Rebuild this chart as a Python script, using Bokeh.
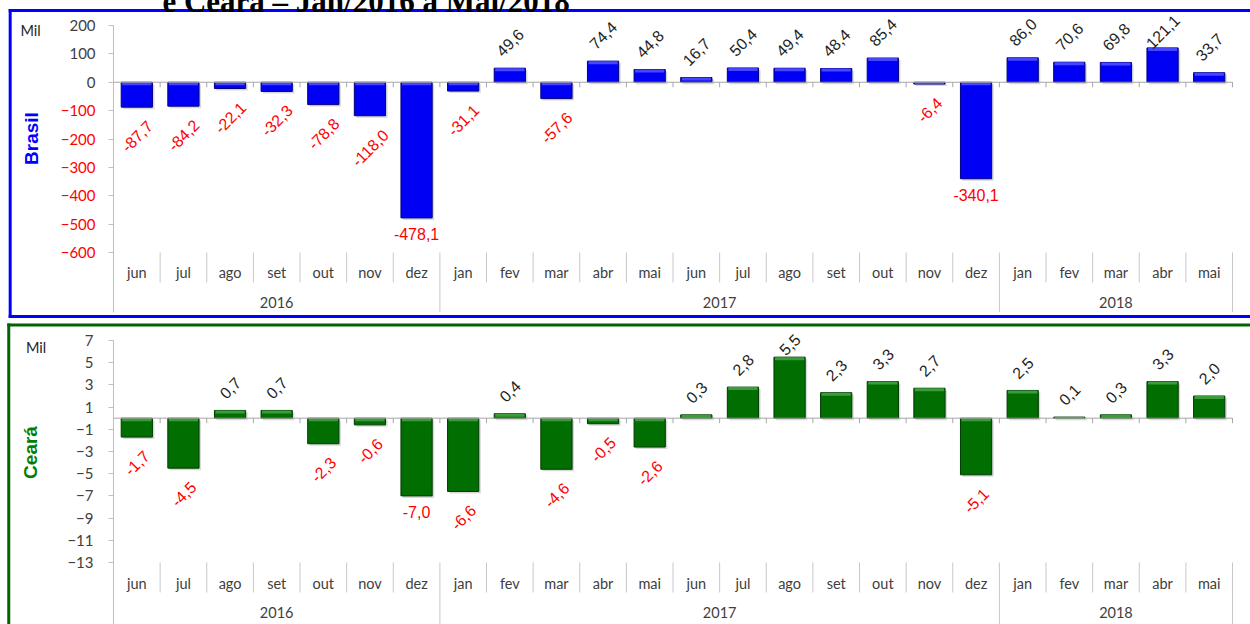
import math
from bokeh.plotting import figure
from bokeh.models import Range1d, FixedTicker, ColumnDataSource
from bokeh.layouts import column
from bokeh.embed import file_html
from bokeh.resources import INLINE
from bokeh.core.properties import value, field

# ---------------- data ----------------
months = ["jun", "jul", "ago", "set", "out", "nov", "dez",
          "jan", "fev", "mar", "abr", "mai", "jun", "jul", "ago", "set", "out", "nov", "dez",
          "jan", "fev", "mar", "abr", "mai"]
years = ["2016", "2017", "2018"]
year_sizes = [7, 12, 5]

brasil = [-87.7, -84.2, -22.1, -32.3, -78.8, -118.0, -478.1,
          -31.1, 49.6, -57.6, 74.4, 44.8, 16.7, 50.4, 49.4, 48.4, 85.4, -6.4, -340.1,
          86.0, 70.6, 69.8, 121.1, 33.7]
ceara = [-1.7, -4.5, 0.7, 0.7, -2.3, -0.6, -7.0,
         -6.6, 0.4, -4.6, -0.5, -2.6, 0.3, 2.8, 5.5, 2.3, 3.3, 2.7, -5.1,
         2.5, 0.1, 0.3, 3.3, 2.0]

brasil_ticks = [200, 100, 0, -100, -200, -300, -400, -500, -600]
ceara_ticks = [7, 5, 3, 1, -1, -3, -5, -7, -9, -11, -13]

title_text = "e Ceará – Jan/2016 a Mai/2018"

W = 1250


def fmt(v):
    return f"{v:.1f}".replace(".", ",")


def make_panel(vals, ticks, c):
    n = len(vals)
    ppx = (c["right"] - c["left"]) / n
    x_end = n - 0.5 + c["extra_right"] / ppx
    frame_right = c["right"] + c["extra_right"]
    ymax = ticks[0]
    ppu = c["ppu"]
    ymin = ymax - (c["bottom"] - c["top"]) / ppu

    def X(px):
        return -0.5 + (px - c["left"]) / ppx

    def Y(py):
        return ymax - (py - c["top"]) / ppu

    p = figure(width=W, height=c["height"], x_range=Range1d(-0.5, x_end),
               y_range=Range1d(ymin, ymax), output_backend="svg",
               toolbar_location=None, x_axis_location=None, title=None,
               min_border_left=c["left"],
               min_border_right=W - frame_right,
               min_border_top=c["top"] - c["y0"],
               min_border_bottom=c["y0"] + c["height"] - c["bottom"])
    p.outline_line_color = None
    p.grid.visible = False
    p.background_fill_color = "white"
    p.border_fill_color = "white"

    xs = list(range(n))
    bw = 0.67
    # soft shadows of the bars
    dx, dy = 2.0 / ppx, 2.0 / ppu
    p.vbar(x=[x + dx for x in xs], top=[max(v, 0) - dy for v in vals],
           bottom=[min(v, 0) - dy for v in vals], width=bw,
           fill_color="#7F7F7F", fill_alpha=0.30, line_color=None)
    # bars
    src = ColumnDataSource(dict(x=xs, v=vals))
    p.vbar(x="x", top="v", bottom=0, width=bw, source=src,
           fill_color=c["bar"], line_color=c["bar_line"], line_width=1)
    hi_top = [max(v, 0) for v in vals]
    hi_bot = [t - min(3.0 / ppu, abs(v)) for t, v in zip(hi_top, vals)]
    p.vbar(x=xs, top=hi_top, bottom=hi_bot, width=bw - 2.0 / ppx,
           fill_color=c["bar_hi"], line_color=None)

    # zero axis and ticks
    bounds = [i + 0.5 for i in range(n)]
    p.segment(x0=[-0.5], y0=[0], x1=[n - 0.5], y1=[0], line_color="#A6A6A6", line_width=1)
    p.segment(x0=bounds, y0=[0] * n, x1=bounds, y1=[-5.0 / ppu] * n,
              line_color="#A6A6A6", line_width=1)

    # category separators
    ybounds = []
    acc = 0
    for s in year_sizes:
        acc += s
        ybounds.append(acc - 0.5)
    short = [b for b in bounds if b not in ybounds]
    tmin = ticks[-1]
    p.segment(x0=short, y0=[tmin] * len(short), x1=short, y1=[Y(c["sep_bottom"])] * len(short),
              line_color="#C8C8C8", line_width=1)
    p.segment(x0=ybounds, y0=[tmin] * len(ybounds), x1=ybounds, y1=[ymin] * len(ybounds),
              line_color="#C8C8C8", line_width=1)

    # month / year labels
    p.text(x=xs, y=[Y(c["month_y"])] * n, text=months, text_align="center",
           text_baseline="middle", text_font=value("Lato"), text_font_size=value("14.5px"),
           text_color="#404040")
    ycent = []
    acc = 0
    for s in year_sizes:
        ycent.append(acc + (s - 1) / 2)
        acc += s
    p.text(x=ycent, y=[Y(c["year_y"])] * len(years), text=years, text_align="center",
           text_baseline="middle", text_font=value("Lato"), text_font_size=value("14.5px"),
           text_color="#404040")

    # y axis
    ax = p.yaxis[0]
    ax.ticker = FixedTicker(ticks=ticks)
    ax.minor_tick_line_color = None
    ax.major_tick_in = 0
    ax.major_tick_out = 5
    ax.axis_line_color = "#BFBFBF"
    ax.major_tick_line_color = "#BFBFBF"
    ax.major_label_text_font = "Lato"
    ax.major_label_text_font_size = "15px"
    ax.major_label_standoff = c["standoff"]
    if c["red_neg"]:
        ax.major_label_text_color = "#FF0000"
        ax.major_label_overrides = {t: "" for t in ticks if t >= 0}
        pos = [t for t in ticks if t >= 0]
        p.text(x=[X(c["left"] - 5 - c["standoff"])] * len(pos), y=pos, text=[str(t) for t in pos],
               text_align="right", text_baseline="middle", text_font=value("Lato"),
               text_font_size=value("15px"), text_color="#404040", level="overlay")
    else:
        ax.major_label_text_color = "#404040"

    # data labels
    lx, ly, lt, la, lc = [], [], [], [], []
    for i, v in enumerate(vals):
        t = fmt(v)
        horiz = i in c["horiz"]
        if v >= 0:
            off = 13 + 3.2 * len(t)
            y = min(v + off / ppu, Y(c["clamp_y"]))
        else:
            off = 16.5 if horiz else 13 + 3.2 * len(t)
            y = v - off / ppu
        lx.append(i)
        ly.append(y)
        lt.append(t)
        la.append(0.0 if horiz else math.pi / 4)
        lc.append("#1F1F1F" if v >= 0 else "#FF0000")
    lsrc = ColumnDataSource(dict(x=lx, y=ly, text=lt, ang=la, tcol=lc))
    p.text(x="x", y="y", text="text", angle="ang", source=lsrc, text_color=field("tcol"),
           text_align="center", text_baseline="middle", text_font=value("Liberation Sans"),
           text_font_size=value("16px"), level="overlay")

    # panel texts
    p.text(x=[X(c["mil"][0])], y=[Y(c["mil"][1])], text=["Mil"], text_align="center",
           text_baseline="middle", text_font=value("Lato"), text_font_size=value("14.5px"),
           text_color="#262626", level="overlay")
    p.text(x=[X(29)], y=[Y(c["name_y"])], text=[c["name"]], angle=math.pi / 2,
           text_align="center", text_baseline="middle",
           text_font=value("Liberation Sans"), text_font_style="bold",
           text_font_size=value("19px"), text_color=c["name_color"], level="overlay")

    # panel border (left, top, optional bottom edge; right edge lies beyond the page)
    bx, bt, bb = X(c["b_left"]), Y(c["b_top"]), Y(c["b_bottom"])
    far = X(1400)
    x0s = [bx, bx]
    y0s = [bt, bt]
    x1s = [far, bx]
    y1s = [bt, bb]
    if c["b_has_bottom"]:
        x0s.append(bx)
        y0s.append(bb)
        x1s.append(far)
        y1s.append(bb)
    p.segment(x0=x0s, y0=y0s, x1=x1s, y1=y1s, line_color=c["border"], line_width=3,
              line_cap="square", level="overlay")
    return p, X, Y


top_cfg = dict(height=320, y0=0, left=111, right=1232, extra_right=2, top=25, bottom=312,
               ppu=227.0 / 800.0, month_y=272, year_y=302, sep_bottom=282, standoff=13,
               red_neg=True, clamp_y=31, horiz={6, 18}, mil=(28, 30), name="Brasil",
               name_y=138, name_color="#0000FF", border="#0000FF", b_left=7.5, b_top=10,
               b_bottom=316, b_has_bottom=True,
               bar="#0000F5", bar_line="#000080", bar_hi="#4646FF")
bot_cfg = dict(height=304, y0=320, left=113, right=1240, extra_right=2, top=340, bottom=624,
               ppu=11.1, month_y=583, year_y=612, sep_bottom=592, standoff=15,
               red_neg=False, clamp_y=344, horiz={6}, mil=(35, 347), name="Ceará",
               name_y=452, name_color="#008000", border="#006400", b_left=7.5, b_top=324.5,
               b_bottom=700, b_has_bottom=False,
               bar="#006E00", bar_line="#003A00", bar_hi="#3C9C3C")

p1, X1, Y1 = make_panel(brasil, brasil_ticks, top_cfg)
p2, X2, Y2 = make_panel(ceara, ceara_ticks, bot_cfg)

# page title above the first panel, cut by the top edge as in the source image
p1.text(x=[X1(160)], y=[Y1(0.5)], text=[title_text], text_align="left",
        text_baseline="middle", text_font=value("Liberation Serif"), text_font_style="bold",
        text_font_size=value("31px"), text_color="#000000", level="overlay")

layout = column(p1, p2)
open("out.html", "w").write(file_html(layout, INLINE))
